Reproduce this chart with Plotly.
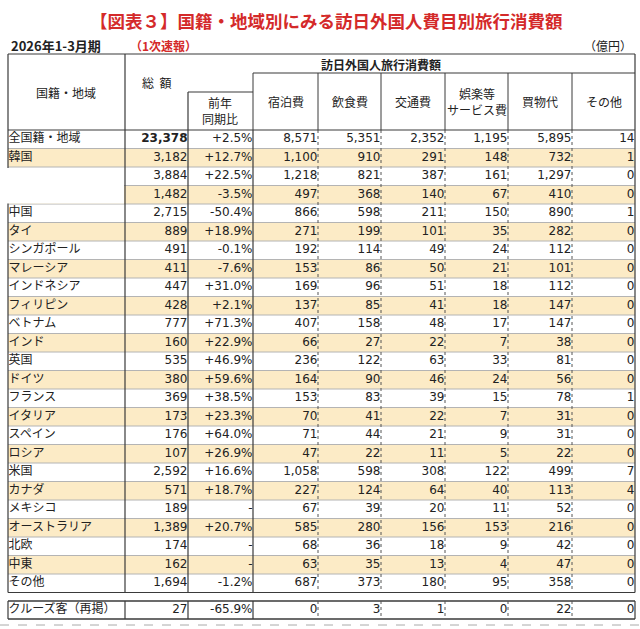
import plotly.graph_objects as go

# ---- data (億円) ----
regions = ["全国籍・地域", "韓国", "", "", "中国", "タイ", "シンガポール", "マレーシア",
           "インドネシア", "フィリピン", "ベトナム", "インド", "英国", "ドイツ", "フランス",
           "イタリア", "スペイン", "ロシア", "米国", "カナダ", "メキシコ", "オーストラリア",
           "北欧", "中東", "その他"]
totals = [23378, 3182, 3884, 1482, 2715, 889, 491, 411, 447, 428, 777, 160, 535, 380,
          369, 173, 176, 107, 2592, 571, 189, 1389, 174, 162, 1694]
yoy = ["+2.5%", "+12.7%", "+22.5%", "-3.5%", "-50.4%", "+18.9%", "-0.1%", "-7.6%",
       "+31.0%", "+2.1%", "+71.3%", "+22.9%", "+46.9%", "+59.6%", "+38.5%", "+23.3%",
       "+64.0%", "+26.9%", "+16.6%", "+18.7%", "-", "+20.7%", "-", "-", "-1.2%"]
lodging = [8571, 1100, 1218, 497, 866, 271, 192, 153, 169, 137, 407, 66, 236, 164,
           153, 70, 71, 47, 1058, 227, 67, 585, 68, 63, 687]
food = [5351, 910, 821, 368, 598, 199, 114, 86, 96, 85, 158, 27, 122, 90, 83, 41, 44,
        22, 598, 124, 39, 280, 36, 35, 373]
transport = [2352, 291, 387, 140, 211, 101, 49, 50, 51, 41, 48, 22, 63, 46, 39, 22, 21,
             11, 308, 64, 20, 156, 18, 13, 180]
entertainment = [1195, 148, 161, 67, 150, 35, 24, 21, 18, 18, 17, 7, 33, 24, 15, 7, 9,
                 5, 122, 40, 11, 153, 9, 4, 95]
shopping = [5895, 732, 1297, 410, 890, 282, 112, 101, 112, 147, 147, 38, 81, 56, 78,
            31, 31, 22, 499, 113, 52, 216, 42, 47, 358]
other = [14, 1, 0, 0, 1, 0, 0, 0, 0, 0, 0, 0, 0, 0, 1, 0, 0, 0, 7, 4, 0, 0, 0, 0, 0]

cruise_label = "クルーズ客（再掲）"
cruise_values = [27, "-65.9%", 0, 3, 1, 0, 22, 0]

sub_headers = ["宿泊費", "飲食費", "交通費", "娯楽等<br>サービス費", "買物代", "その他"]

# ---- layout constants (pixels) ----
W, H = 640, 629
col_edges = [8, 125, 188, 253, 318, 381, 445, 508, 572, 635]
head_top, head_mid, yoy_top = 54, 73, 92
row_top, row_h = 130, 18.5
cruise_top, cruise_bot = 601, 619
YELLOW = "#fcebc6"
DARK = "#3a3a3a"
GRID = "#b4b4b4"
RED = "#d42a2a"
JP = "Noto Sans CJK JP"
NUM = "DejaVu Sans"

n = len(regions)
body_bot = row_top + row_h * n


def row_center(i):
    return row_top + row_h * (i + 0.5)


def fmt(v):
    return f"{v:,}" if isinstance(v, int) else v


shapes = []


def line(x0, y0, x1, y1, color=DARK, width=1, dash="solid"):
    shapes.append(dict(type="line", x0=x0, y0=y0, x1=x1, y1=y1, xref="x", yref="y",
                       line=dict(color=color, width=width, dash=dash)))


def verticals(y0, y1):
    for k, x in enumerate(col_edges):
        if k in (0, 1, 2, 3, 9):
            line(x, y0, x, y1, color=DARK, width=1.2)
        else:
            line(x, y0, x, y1, color="#555", width=1, dash="dot")


# row fills
for i in range(n):
    if i % 2 == 1:
        shapes.append(dict(type="rect", x0=col_edges[0], x1=col_edges[-1],
                           y0=row_top + row_h * i, y1=row_top + row_h * (i + 1),
                           xref="x", yref="y", line=dict(width=0), fillcolor=YELLOW,
                           layer="below"))

# horizontal row lines
for i in range(1, n):
    y = row_top + row_h * i
    line(col_edges[0], y, col_edges[-1], y, color=GRID, width=1)

verticals(row_top, body_bot)

# name cells of rows 3-4 are blank (whited out) in the source
shapes.append(dict(type="rect", x0=4, x1=col_edges[1] - 1,
                   y0=row_top + row_h * 2 + 1, y1=row_top + row_h * 4 - 0.5,
                   xref="x", yref="y", line=dict(width=0), fillcolor="white"))

# header box
line(col_edges[0], head_top, col_edges[-1], head_top, width=1.2)
line(col_edges[0], row_top, col_edges[-1], row_top, width=1.2)
line(col_edges[0], head_top, col_edges[0], row_top, width=1.2)
line(col_edges[-1], head_top, col_edges[-1], row_top, width=1.2)
line(col_edges[1], head_top, col_edges[1], row_top, width=1.2)
line(col_edges[3], head_mid, col_edges[-1], head_mid, width=1.2)
line(col_edges[2], yoy_top, col_edges[3], yoy_top, width=1.2)
line(col_edges[2], yoy_top, col_edges[2], row_top, width=1.2)
for x in col_edges[3:9]:
    line(x, head_mid, x, row_top, width=1)
line(col_edges[0], body_bot, col_edges[-1], body_bot, width=1.2)

# cruise box
line(col_edges[0], cruise_top, col_edges[-1], cruise_top, width=1.3)
line(col_edges[0], cruise_bot, col_edges[-1], cruise_bot, width=1.3)
verticals(cruise_top, cruise_bot)

# dashed separator at bottom
line(0, 625, W, 625, color="#aaaaaa", width=1, dash="dash")

fig = go.Figure()

cruise_y = (cruise_top + cruise_bot) / 2
ys = [row_center(i) for i in range(n)] + [cruise_y]

# region names
fig.add_trace(go.Scatter(
    x=[col_edges[0] + 0.5] * (n + 1),
    y=ys,
    text=regions + [cruise_label],
    mode="text", textposition="middle right",
    textfont=dict(family=JP, size=12, color="#222"),
    hoverinfo="skip", showlegend=False))

# numeric columns
columns = [totals, yoy, lodging, food, transport, entertainment, shopping, other]
for c, values in enumerate(columns):
    texts = [fmt(v) for v in values]
    if c == 0:
        texts[0] = "<b>" + texts[0] + "</b>"
    texts.append(fmt(cruise_values[c]))
    fig.add_trace(go.Scatter(
        x=[col_edges[c + 2] - 0.5] * (n + 1),
        y=ys,
        text=texts,
        mode="text", textposition="middle left",
        textfont=dict(family=NUM, size=12, color="#222"),
        hoverinfo="skip", showlegend=False))

annotations = []


def label(x, y, text, size=12, color="#222", bold=False, xanchor="center", family=JP):
    if bold:
        text = "<b>" + text + "</b>"
    annotations.append(dict(x=x, y=y, xref="x", yref="y", text=text, showarrow=False,
                            xanchor=xanchor, yanchor="middle",
                            font=dict(family=family, size=size, color=color)))


label(326, 20, "【図表３】国籍・地域別にみる訪日外国人費目別旅行消費額", size=17.5, color=RED, bold=True)
label(9, 45, "2026年1-3月期", size=13, bold=True, xanchor="left")
label(128, 45, "（1次速報）", size=12, color=RED, bold=True, xanchor="left")
label(634, 45, "（億円）", size=12, xanchor="right")

label(66, 92, "国籍・地域")
label(156, 82, "総  額")
label(220, 110, "前年<br>同期比")
label(381, 64, "訪日外国人旅行消費額", bold=True)
for k, h in enumerate(sub_headers):
    label((col_edges[k + 3] + col_edges[k + 4]) / 2, 101, h)

fig.update_layout(
    width=W, height=H, autosize=False,
    margin=dict(l=0, r=0, t=0, b=0),
    paper_bgcolor="white", plot_bgcolor="white",
    xaxis=dict(range=[0, W], visible=False, fixedrange=True),
    yaxis=dict(range=[H, 0], visible=False, fixedrange=True),
    shapes=shapes, annotations=annotations,
    showlegend=False,
)

# drop the default body margin so the 640x629 figure fills the window exactly
fig.write_html("out.html", config={"displayModeBar": False},
               post_script="document.body.style.margin='0';document.body.style.overflow='hidden';")
